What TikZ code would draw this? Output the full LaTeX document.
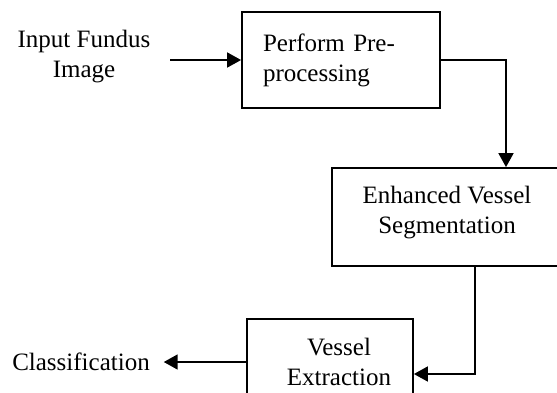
\documentclass[tikz,border=0pt]{standalone}
\usepackage{fontspec}
\setmainfont{Liberation Serif}
\usetikzlibrary{arrows.meta}
\begin{document}
\begin{tikzpicture}[x=0.5pt,y=-0.5pt,
  box/.style={draw, line width=0.9pt, rectangle, inner sep=0pt, align=center},
  lbl/.style={inner sep=0pt, align=center},
  arr/.style={line width=0.9pt, -{Triangle[length=7pt,width=7.5pt]}},
  every node/.style={font=\fontsize{12.5}{15}\selectfont}]
\useasboundingbox (0,0) rectangle (557,392);
\clip (0,0) rectangle (557,392);
\node[lbl, outer xsep=10pt] (in) at (84,57) {Input Fundus\\Image};
\node[box, minimum width=99pt, minimum height=48pt, text width=78pt, inner xsep=10.5pt, align=left] (b1) at (341,60) {Perform Pre-\\processing};
\node[box, minimum width=115pt, minimum height=49pt] (b2) at (447,217) {Enhanced Vessel\\Segmentation\\[-8pt]\mbox{}};
\node[box, minimum width=83pt, minimum height=43pt] (b3) at (330,362) {\hspace*{9pt}Vessel\\\hspace*{9pt}Extraction};
\node[lbl, outer xsep=7pt] (cl) at (81,362) {Classification};
\draw[arr] (b1.west -| in.east) -- (b1.west);
\draw[arr] (b1.east) -| ([xshift=29.5pt]b2.north);
\draw[arr] ([xshift=14pt]b2.south) |- ([yshift=-6pt]b3.east);
\draw[arr] (b3.west) -- (b3.west -| cl.east);
\end{tikzpicture}
\end{document}
